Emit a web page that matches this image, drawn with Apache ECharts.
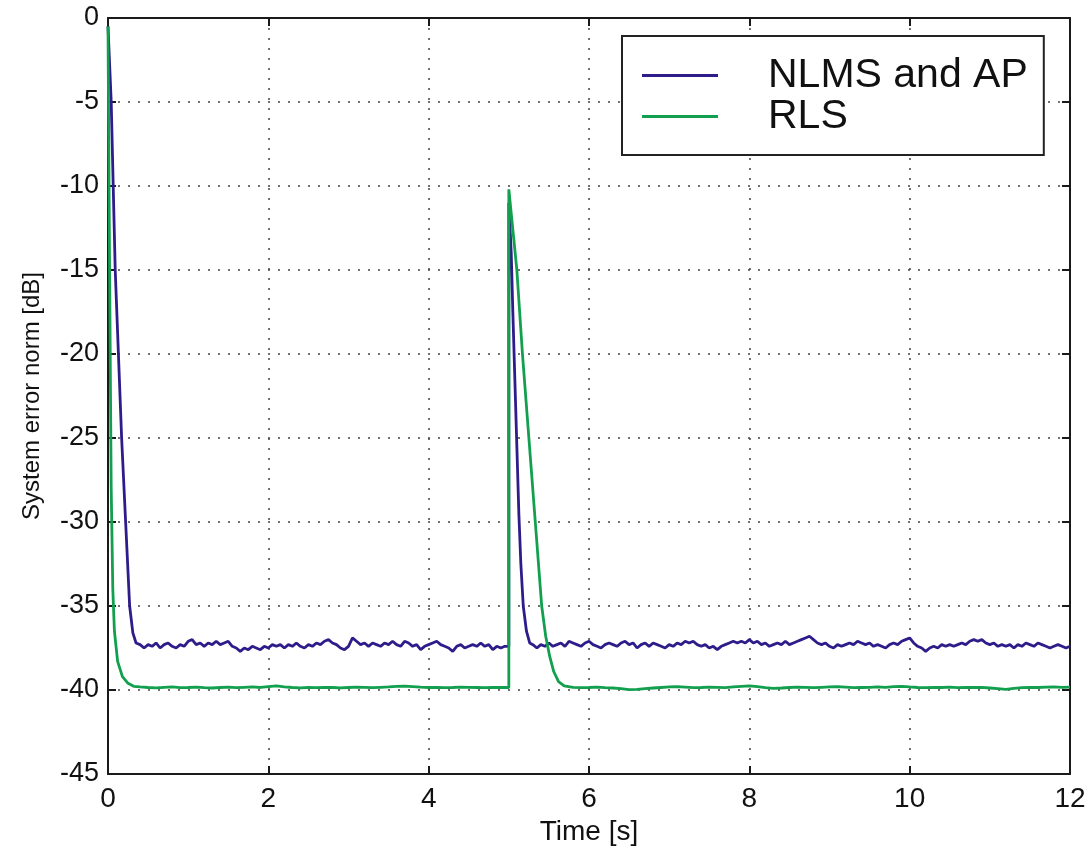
<!DOCTYPE html>
<html>
<head>
<meta charset="utf-8">
<script src="https://cdn.jsdelivr.net/npm/echarts@6/dist/echarts.min.js"></script>
<style>
    html, body { margin: 0; padding: 0; background: #fff; }
    #system_error_norm { width: 1089px; height: 852px; }
</style>
</head>
<body>
<div id="system_error_norm"></div>
<script>
// x ticks / y ticks
var timeTicks = [0, 2, 4, 6, 8, 10, 12];
var dbTicks = [0, -5, -10, -15, -20, -25, -30, -35, -40, -45];

// NLMS and AP: initial convergence [t, dB]
var nlmsStart = [[0, -0.5], [0.04, -5], [0.09, -15], [0.17, -25], [0.22, -30], [0.27, -35], [0.31, -36.6], [0.35, -37.2]];
// NLMS and AP: steady state 0.40 .. 4.95 s, every 0.05 s
var nlmsFloor1 = [
    -37.3, -37.5, -37.3, -37.4, -37.2, -37.5, -37.3, -37.2, -37.4, -37.5,
    -37.3, -37.4, -37.1, -37.0, -37.3, -37.2, -37.4, -37.2, -37.3, -37.1,
    -37.3, -37.2, -37.1, -37.4, -37.5, -37.7, -37.5, -37.6, -37.4, -37.5,
    -37.6, -37.4, -37.5, -37.3, -37.4, -37.3, -37.5, -37.3, -37.4, -37.2,
    -37.4, -37.5, -37.3, -37.4, -37.2, -37.3, -37.1, -37.0, -37.2, -37.3,
    -37.5, -37.6, -37.4, -36.9, -37.1, -37.3, -37.2, -37.4, -37.2, -37.3,
    -37.4, -37.2, -37.3, -37.1, -37.3, -37.4, -37.1, -37.2, -37.4, -37.3,
    -37.6, -37.4, -37.3, -37.2, -37.1, -37.3, -37.4, -37.5, -37.7, -37.4,
    -37.3, -37.5, -37.4, -37.3, -37.4, -37.2, -37.4, -37.3, -37.6, -37.4,
    -37.5, -37.4
];
// NLMS and AP: echo path change at 5 s [t, dB]
var nlmsJump = [[5.0, -37.4], [5.0, -11.0], [5.03, -14], [5.05, -17.5], [5.075, -21.5], [5.1, -25.5], [5.125, -29.5], [5.15, -32.5], [5.18, -35], [5.22, -36.5], [5.26, -37.2]];
// NLMS and AP: steady state 5.30 .. 12.00 s, every 0.05 s
var nlmsFloor2 = [
    -37.3, -37.5, -37.3, -37.4, -37.2, -37.4, -37.3, -37.2, -37.4, -37.1,
    -37.2, -37.3, -37.4, -37.2, -37.1, -37.3, -37.4, -37.5, -37.3, -37.2,
    -37.3, -37.4, -37.2, -37.1, -37.3, -37.2, -37.5, -37.3, -37.2, -37.4,
    -37.2, -37.3, -37.4, -37.5, -37.3, -37.4, -37.2, -37.3, -37.1, -37.2,
    -37.1, -37.3, -37.4, -37.3, -37.5, -37.4, -37.6, -37.4, -37.3, -37.2,
    -37.1, -37.2, -37.1, -37.2, -37.0, -37.2, -37.1, -37.3, -37.2, -37.4,
    -37.3, -37.2, -37.3, -37.1, -37.3, -37.2, -37.1, -37.0, -36.9, -36.8,
    -37.0, -37.2, -37.3, -37.2, -37.4, -37.5, -37.3, -37.4, -37.3, -37.2,
    -37.3, -37.1, -37.2, -37.3, -37.2, -37.4, -37.3, -37.4, -37.5, -37.3,
    -37.2, -37.3, -37.1, -37.0, -36.9, -37.2, -37.4, -37.5, -37.7, -37.5,
    -37.4, -37.5, -37.3, -37.4, -37.3, -37.4, -37.3, -37.2, -37.3, -37.1,
    -37.0, -37.1, -37.0, -37.2, -37.3, -37.2, -37.4, -37.3, -37.4, -37.3,
    -37.5, -37.3, -37.4, -37.2, -37.3, -37.4, -37.2, -37.3, -37.4, -37.5,
    -37.4, -37.3, -37.4, -37.5, -37.4
];

// RLS: initial convergence [t, dB]
var rlsStart = [[0, -0.5], [0.02, -15], [0.04, -28], [0.06, -34], [0.08, -36.5], [0.12, -38.3], [0.18, -39.2], [0.25, -39.6], [0.32, -39.78]];
// RLS: steady state 0.4 .. 4.9 s, every 0.1 s
var rlsFloor1 = [
    -39.82, -39.85, -39.87, -39.84, -39.82, -39.86, -39.85, -39.83, -39.86, -39.88,
    -39.85, -39.83, -39.86, -39.84, -39.82, -39.85, -39.80, -39.76, -39.82, -39.85,
    -39.87, -39.85, -39.86, -39.84, -39.85, -39.87, -39.85, -39.83, -39.84, -39.86,
    -39.84, -39.82, -39.78, -39.77, -39.80, -39.83, -39.85, -39.84, -39.86, -39.85,
    -39.83, -39.84, -39.85, -39.86, -39.84, -39.85
];
// RLS: echo path change at 5 s [t, dB]
var rlsJump = [[5.0, -39.85], [5.0, -10.2], [5.05, -12.6], [5.1, -15], [5.17, -20], [5.25, -25], [5.33, -30], [5.41, -35], [5.46, -36.8], [5.51, -38.0], [5.56, -38.9], [5.62, -39.5], [5.69, -39.75]];
// RLS: steady state 5.8 .. 12.0 s, every 0.1 s
var rlsFloor2 = [
    -39.84, -39.86, -39.85, -39.83, -39.86, -39.88, -39.92, -39.98, -39.96, -39.92,
    -39.88, -39.85, -39.82, -39.80, -39.83, -39.86, -39.85, -39.83, -39.84, -39.86,
    -39.82, -39.78, -39.76, -39.80, -39.86, -39.90, -39.88, -39.85, -39.83, -39.84,
    -39.86, -39.84, -39.82, -39.80, -39.83, -39.86, -39.85, -39.84, -39.82, -39.84,
    -39.80, -39.78, -39.82, -39.85, -39.86, -39.84, -39.85, -39.83, -39.86, -39.84,
    -39.85, -39.84, -39.88, -39.92, -39.96, -39.90, -39.86, -39.84, -39.85, -39.83,
    -39.82, -39.84, -39.83
];

/**
 * 等间隔数据转成 [t, dB]
 */
function sampled(start, step, values) {
    return values.map(function (v, i) {
        return [Math.round((start + i * step) * 1000) / 1000, v];
    });
}

var nlmsData = nlmsStart
    .concat(sampled(0.4, 0.05, nlmsFloor1))
    .concat(nlmsJump)
    .concat(sampled(5.3, 0.05, nlmsFloor2));
var rlsData = rlsStart
    .concat(sampled(0.4, 0.1, rlsFloor1))
    .concat(rlsJump)
    .concat(sampled(5.8, 0.1, rlsFloor2));

systemErrorNormChart();

/**
 * 系统误差范数图表
 */
function systemErrorNormChart() {
    var myChart = echarts.init(document.getElementById('system_error_norm'));
    var font = 'Liberation Sans, Arial, Helvetica, sans-serif';
    var frameAxis = {
        type: 'value',
        axisLine: {show: true, onZero: false, lineStyle: {color: '#1a1a1a', width: 2}},
        axisTick: {show: true, inside: true, length: 8, lineStyle: {color: '#1a1a1a', width: 2}},
        axisLabel: {show: false},
        splitLine: {show: false}
    };
    var option = {
        animation: false,
        backgroundColor: '#fff',
        grid: {left: 108, right: 19, top: 18, bottom: 78},
        legend: {
            orient: 'vertical',
            left: 622,
            top: 36,
            padding: [19, 16, 18, 20],
            itemGap: 0,
            itemWidth: 76,
            itemHeight: 3,
            icon: 'rect',
            borderColor: '#222',
            borderWidth: 2,
            backgroundColor: '#fff',
            textStyle: {fontFamily: font, fontSize: 41, lineHeight: 38, color: '#111', padding: [0, 0, 0, 45]},
            data: ['NLMS and AP', 'RLS']
        },
        xAxis: [
            {
                type: 'value',
                min: timeTicks[0],
                max: timeTicks[timeTicks.length - 1],
                interval: 2,
                name: 'Time [s]',
                nameLocation: 'middle',
                nameGap: 44,
                nameTextStyle: {fontFamily: font, fontSize: 28, color: '#111'},
                axisLine: {show: true, onZero: false, lineStyle: {color: '#1a1a1a', width: 2}},
                axisTick: {show: true, inside: true, length: 8, lineStyle: {color: '#1a1a1a', width: 2}},
                axisLabel: {fontFamily: font, fontSize: 28, color: '#111', margin: 11},
                splitLine: {show: true, lineStyle: {type: [2, 8], color: '#444', width: 1.5}}
            },
            Object.assign({}, frameAxis, {position: 'top', min: 0, max: 12, interval: 2})
        ],
        yAxis: [
            {
                type: 'value',
                min: dbTicks[dbTicks.length - 1],
                max: dbTicks[0],
                interval: 5,
                name: 'System error norm [dB]',
                nameLocation: 'middle',
                nameGap: 64,
                nameTextStyle: {fontFamily: font, fontSize: 24, color: '#111'},
                axisLine: {show: true, onZero: false, lineStyle: {color: '#1a1a1a', width: 2}},
                axisTick: {show: true, inside: true, length: 8, lineStyle: {color: '#1a1a1a', width: 2}},
                axisLabel: {fontFamily: font, fontSize: 27, color: '#111', margin: 9},
                splitLine: {show: true, lineStyle: {type: [2, 8], color: '#444', width: 1.5}}
            },
            Object.assign({}, frameAxis, {position: 'right', min: -45, max: 0, interval: 5})
        ],
        series: [
            {
                name: 'NLMS and AP',
                type: 'line',
                showSymbol: false,
                lineStyle: {color: '#2e1c8a', width: 2.8},
                itemStyle: {color: '#2e1c8a'},
                data: nlmsData
            },
            {
                name: 'RLS',
                type: 'line',
                showSymbol: false,
                lineStyle: {color: '#12a04e', width: 2.8},
                itemStyle: {color: '#12a04e'},
                data: rlsData
            }
        ]
    };
    if (option && typeof option === "object") {
        myChart.setOption(option, true);
    }
}
</script>
</body>
</html>
